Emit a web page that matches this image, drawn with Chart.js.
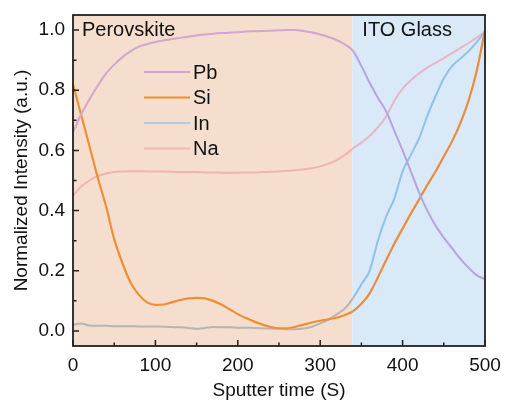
<!DOCTYPE html>
<html lang="en">
<head>
    <meta charset="UTF-8">
    <title>Sputter depth profile</title>
    <script src="https://cdn.jsdelivr.net/npm/chart.js"></script>
    <style>
        body { margin: 0; background: #fff; }
        #wrap { width: 506px; height: 410px; }
    </style>
</head>
<body>
    <div id="wrap"><canvas id="chart" width="506" height="410"></canvas></div>

    <script>
        // sputter time (s)
        const TIME = [0, 10, 20, 30, 40, 50, 60, 70, 80, 90, 100, 110, 120, 130, 140, 150, 160, 170, 180, 190,
            200, 210, 220, 230, 240, 250, 260, 270, 280, 290, 300, 310, 320, 330, 340, 350, 360, 370, 380, 390,
            400, 410, 420, 430, 440, 450, 460, 470, 480, 490, 500];

        const PB = [0.66, 0.72, 0.77, 0.815, 0.855, 0.885, 0.91, 0.93, 0.945, 0.953, 0.96, 0.965, 0.97, 0.974, 0.978,
            0.982, 0.985, 0.988, 0.99, 0.991, 0.993, 0.995, 0.996, 0.997, 0.998, 0.999, 1.0, 1.0, 0.997, 0.992,
            0.985, 0.977, 0.967, 0.952, 0.93, 0.88, 0.825, 0.775, 0.73, 0.665, 0.60, 0.53, 0.46, 0.40, 0.35,
            0.31, 0.275, 0.24, 0.21, 0.185, 0.172];

        const SI = [0.82, 0.717, 0.614, 0.51, 0.415, 0.305, 0.225, 0.16, 0.12, 0.095, 0.087, 0.088, 0.095, 0.103, 0.108,
            0.11, 0.108, 0.1, 0.088, 0.072, 0.056, 0.043, 0.031, 0.021, 0.013, 0.009, 0.009, 0.014, 0.021, 0.028,
            0.034, 0.039, 0.044, 0.053, 0.066, 0.09, 0.125, 0.178, 0.235, 0.29, 0.34, 0.39, 0.437, 0.485, 0.53,
            0.58, 0.63, 0.69, 0.765, 0.865, 1.0];

        const IN = [0.02, 0.025, 0.018, 0.017, 0.017, 0.016, 0.016, 0.016, 0.015, 0.015, 0.015, 0.014, 0.013, 0.012, 0.01,
            0.007, 0.01, 0.013, 0.012, 0.012, 0.011, 0.011, 0.01, 0.009, 0.008, 0.007, 0.006, 0.006, 0.008, 0.014,
            0.025, 0.038, 0.055, 0.075, 0.11, 0.155, 0.2, 0.3, 0.38, 0.44, 0.53, 0.585, 0.64, 0.715, 0.78,
            0.84, 0.88, 0.905, 0.93, 0.96, 0.995];

        const NA = [0.45, 0.48, 0.50, 0.515, 0.523, 0.528, 0.53, 0.531, 0.531, 0.53, 0.53, 0.53, 0.529, 0.528, 0.528,
            0.528, 0.527, 0.527, 0.526, 0.526, 0.526, 0.527, 0.527, 0.528, 0.529, 0.53, 0.532, 0.534, 0.537, 0.541,
            0.547, 0.556, 0.568, 0.585, 0.607, 0.626, 0.648, 0.677, 0.713, 0.765, 0.805, 0.833, 0.856, 0.875, 0.891,
            0.907, 0.923, 0.94, 0.957, 0.975, 0.995];

        const SERIES = ['Pb', 'Si', 'In', 'Na'];
        const X_TICKS = [0, 100, 200, 300, 400, 500];
        const Y_TICKS = [0.0, 0.2, 0.4, 0.6, 0.8, 1.0];
        const REGIONS = ['Perovskite', 'ITO Glass'];
        const BOUNDARY = 339; // perovskite / ITO interface, s

        const FONT = '"Liberation Sans", Arial, sans-serif';

        // colour over the perovskite band, colour over the glass band, legend colour
        const COLORS = {
            Pb: ['#d2a6d0', '#b9a3dd', '#d0a4d2'],
            Si: ['#ef8f35', '#e98c3c', '#ef8f35'],
            In: ['#b5b5b5', '#8fc2e4', '#a8d0e3'],
            Na: ['#f1b3ae', '#e6b6c9', '#f3b7b5']
        };

        const pts = arr => TIME.map((t, i) => ({ x: t, y: arr[i] }));
        const values = { Pb: PB, Si: SI, In: IN, Na: NA };

        const datasets = SERIES.map(name => ({
            label: name,
            data: pts(values[name]),
            borderColor: COLORS[name][0],
            borderWidth: name === 'Si' ? 2.2 : 2,
            pointRadius: 0,
            cubicInterpolationMode: 'monotone',
            segment: {
                borderColor: ctx => ctx.p0.parsed.x >= BOUNDARY ? COLORS[name][1] : COLORS[name][0]
            }
        }));

        const bands = {
            id: 'bands',
            beforeDatasetsDraw(chart) {
                const { ctx, chartArea: a, scales: { x } } = chart;
                const xb = x.getPixelForValue(BOUNDARY);
                ctx.save();
                ctx.fillStyle = '#f5dece';
                ctx.fillRect(a.left, a.top, xb - a.left, a.bottom - a.top);
                ctx.fillStyle = '#d9e9f7';
                ctx.fillRect(xb, a.top, a.right - xb, a.bottom - a.top);
                ctx.restore();
            }
        };

        const decor = {
            id: 'decor',
            afterDraw(chart) {
                const { ctx, chartArea: a, scales: { x, y } } = chart;
                ctx.save();
                ctx.strokeStyle = '#222';

                // inward ticks
                ctx.lineWidth = 1.5;
                ctx.beginPath();
                for (let v = 0; v <= 500; v += 50) {
                    const px = x.getPixelForValue(v);
                    const len = v % 100 === 0 ? 6 : 3.5;
                    ctx.moveTo(px, a.bottom);
                    ctx.lineTo(px, a.bottom - len);
                }
                for (let i = 0; i <= 10; i++) {
                    const py = y.getPixelForValue(i / 10);
                    const len = i % 2 === 0 ? 6 : 3.5;
                    ctx.moveTo(a.left, py);
                    ctx.lineTo(a.left + len, py);
                }
                ctx.stroke();

                // frame
                ctx.lineWidth = 1.8;
                ctx.strokeRect(a.left, a.top, a.right - a.left, a.bottom - a.top);

                // region labels
                ctx.fillStyle = '#111';
                ctx.font = '20px ' + FONT;
                ctx.textBaseline = 'middle';
                ctx.textAlign = 'left';
                ctx.fillText(REGIONS[0], a.left + 9, 30);
                ctx.fillText(REGIONS[1], x.getPixelForValue(BOUNDARY) + 10, 30);

                // legend
                ctx.font = '20px ' + FONT;
                SERIES.forEach((name, i) => {
                    const ly = 72 + i * 25.5;
                    ctx.strokeStyle = COLORS[name][2];
                    ctx.lineWidth = name === 'Si' ? 2.2 : 2;
                    ctx.beginPath();
                    ctx.moveTo(144, ly);
                    ctx.lineTo(190, ly);
                    ctx.stroke();
                    ctx.fillText(name, 193, ly + 1);
                });
                ctx.restore();
            }
        };

        new Chart(document.getElementById('chart'), {
            type: 'line',
            data: { datasets },
            options: {
                responsive: false,
                animation: false,
                layout: { padding: { top: 15, right: 21, left: 0, bottom: 0 } },
                plugins: { legend: { display: false }, tooltip: { enabled: false } },
                scales: {
                    x: {
                        type: 'linear',
                        min: 0,
                        max: 500,
                        afterBuildTicks: s => { s.ticks = X_TICKS.map(v => ({ value: v })); },
                        afterFit: s => { s.height = 64; s.paddingLeft = 0; s.paddingRight = 0; },
                        grid: { display: false, drawTicks: false },
                        border: { display: false },
                        ticks: { color: '#111', padding: 8, maxRotation: 0, font: { family: FONT, size: 19 } },
                        title: {
                            display: true,
                            text: 'Sputter time (S)',
                            color: '#111',
                            font: { family: FONT, size: 19 },
                            padding: { top: 0, bottom: 8 }
                        }
                    },
                    y: {
                        min: -0.05,
                        max: 1.05,
                        afterBuildTicks: s => { s.ticks = Y_TICKS.map(v => ({ value: v })); },
                        afterFit: s => { s.width = 73; s.paddingTop = 0; s.paddingBottom = 0; },
                        grid: { display: false, drawTicks: false },
                        border: { display: false },
                        ticks: {
                            color: '#111',
                            padding: 8,
                            font: { family: FONT, size: 19 },
                            callback: v => Number(v).toFixed(1)
                        },
                        title: {
                            display: true,
                            text: 'Normalized Intensity (a.u.)',
                            color: '#111',
                            font: { family: FONT, size: 19 },
                            padding: { top: 10, bottom: 0 }
                        }
                    }
                }
            },
            plugins: [bands, decor]
        });
    </script>
</body>
</html>
